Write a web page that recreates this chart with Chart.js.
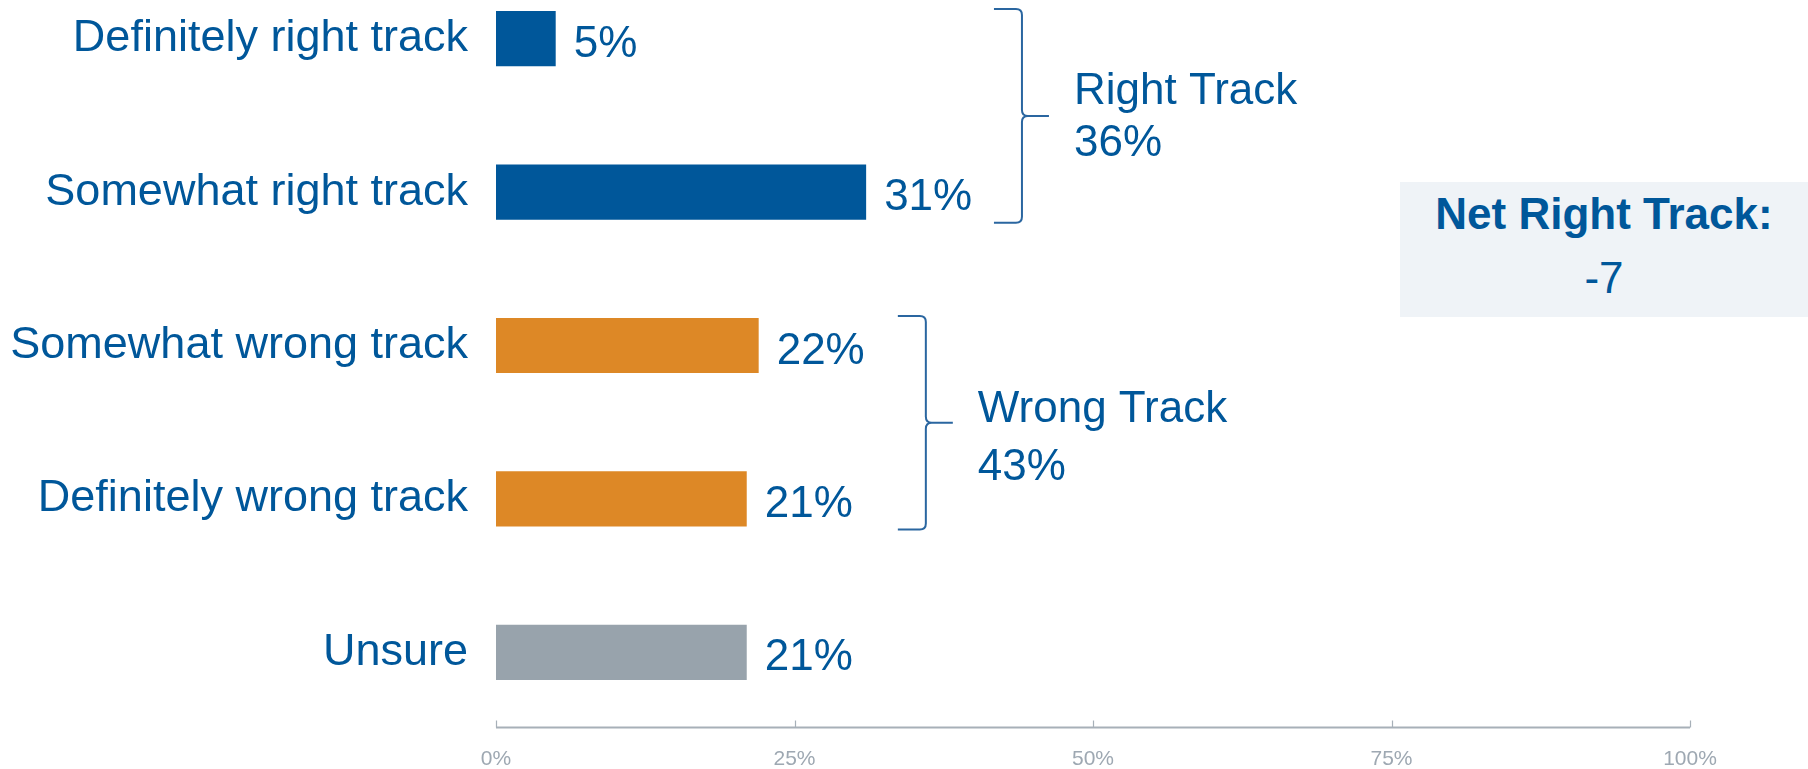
<!DOCTYPE html>
<html>
<head>
<meta charset="utf-8">
<script src="https://cdn.jsdelivr.net/npm/chart.js@4"></script>
<style>
  html, body { margin: 0; padding: 0; background: #fff; overflow: hidden; }
  body { width: 1808px; height: 769px; position: relative; font-family: 'Liberation Sans', Arial, sans-serif; }
  #wrap { position: absolute; left: 0; top: -38px; width: 1808px; height: 807px; }
  #net {
    position: absolute; left: 1400px; top: 182px; width: 408px; height: 135px;
    background: #eff3f7; color: #00579a; text-align: center; font-size: 44px; line-height: 64px;
  }
  #net b { display: block; }
</style>
</head>
<body>
<div id="wrap"><canvas id="chart"></canvas></div>
<div id="net"><b id="netLabel"></b><span id="netValue"></span></div>
<script>
// ── Data ─────────────────────────────────────────────
const categories = ['Definitely right track', 'Somewhat right track', 'Somewhat wrong track', 'Definitely wrong track', 'Unsure'];
const values = [5, 31, 22, 21, 21];
const xTicks = [0, 25, 50, 75, 100];

const groupLabels = ['Right Track', 'Wrong Track'];
const groupValues = [36, 43];
const groupFirst = [0, 2];   // index of first category in the group
const groupLast = [1, 3];    // index of last category in the group

const netLabel = 'Net Right Track:';
const netValue = -7;

// ── Styles ───────────────────────────────────────────
const BLUE = '#00579a';
const ORANGE = '#dd8826';
const GREY = '#98a3ac';
const AXIS = '#a7b0b8';
const barColors = [BLUE, BLUE, ORANGE, ORANGE, GREY];

Chart.defaults.font.family = "'Liberation Sans', Arial, sans-serif";

document.getElementById('netLabel').textContent = netLabel;
document.getElementById('netValue').textContent = String(netValue);

// value labels at bar ends
const valueLabels = {
  id: 'valueLabels',
  afterDatasetsDraw(chart) {
    const { ctx } = chart;
    const meta = chart.getDatasetMeta(0);
    ctx.save();
    ctx.font = "44px 'Liberation Sans', Arial, sans-serif";
    ctx.fillStyle = BLUE;
    ctx.textAlign = 'left';
    ctx.textBaseline = 'alphabetic';
    meta.data.forEach((bar, i) => {
      ctx.fillText(values[i] + '%', bar.x + 18, bar.y + 18);
    });
    ctx.restore();
  }
};

// bottom axis line with upward ticks
const axisLine = {
  id: 'axisLine',
  afterDraw(chart) {
    const { ctx, chartArea } = chart;
    const xs = chart.scales.x;
    const y = chartArea.bottom - 1.5;
    ctx.save();
    ctx.strokeStyle = AXIS;
    ctx.lineWidth = 2;
    ctx.beginPath();
    ctx.moveTo(xs.getPixelForValue(0), y);
    ctx.lineTo(xs.getPixelForValue(100), y);
    ctx.stroke();
    ctx.lineWidth = 1.2;
    xTicks.forEach(t => {
      const x = Math.round(xs.getPixelForValue(t)) + 0.5;
      ctx.beginPath();
      ctx.moveTo(x, y);
      ctx.lineTo(x, y - 7);
      ctx.stroke();
    });
    ctx.restore();
  }
};

// curly braces + group totals
const braces = {
  id: 'braces',
  afterDraw(chart, args, opts) {
    const { ctx } = chart;
    const xs = chart.scales.x;
    const meta = chart.getDatasetMeta(0);
    ctx.save();
    groupLabels.forEach((label, g) => {
      const first = meta.data[groupFirst[g]];
      const last = meta.data[groupLast[g]];
      const top = first.y - first.height / 2 - 2;
      const bot = last.y + last.height / 2 + 3;
      const mid = (top + bot) / 2;
      const xv = xs.getPixelForValue(opts.braceAt[g]);
      const r = 6;
      ctx.strokeStyle = '#2a66a0';
      ctx.lineWidth = 2;
      ctx.beginPath();
      ctx.moveTo(xv - 28, top);
      ctx.lineTo(xv - r, top);
      ctx.quadraticCurveTo(xv, top, xv, top + r);
      ctx.lineTo(xv, mid - r);
      ctx.quadraticCurveTo(xv, mid, xv + r, mid);
      ctx.lineTo(xv + 27, mid);
      ctx.moveTo(xv + r, mid);
      ctx.quadraticCurveTo(xv, mid, xv, mid + r);
      ctx.lineTo(xv, bot - r);
      ctx.quadraticCurveTo(xv, bot, xv - r, bot);
      ctx.lineTo(xv - 28, bot);
      ctx.stroke();

      ctx.font = "44px 'Liberation Sans', Arial, sans-serif";
      ctx.fillStyle = BLUE;
      ctx.textAlign = 'left';
      ctx.textBaseline = 'alphabetic';
      const off = opts.labelOffsets[g];
      ctx.fillText(label, xv + 52, mid + off[0]);
      ctx.fillText(groupValues[g] + '%', xv + 52, mid + off[1]);
    });
    ctx.restore();
  }
};

new Chart(document.getElementById('chart'), {
  type: 'bar',
  data: {
    labels: categories,
    datasets: [{
      data: values,
      backgroundColor: barColors,
      borderWidth: 0,
      categoryPercentage: 1,
      barPercentage: 0.36,
    }],
  },
  options: {
    indexAxis: 'y',
    responsive: true,
    maintainAspectRatio: false,
    animation: false,
    events: [],
    layout: { padding: { left: 0, right: 118, top: 0, bottom: 0 } },
    plugins: {
      legend: { display: false },
      tooltip: { enabled: false },
      braces: { braceAt: [44.05, 36.0], labelOffsets: [[-12, 40], [-1, 57]] },
    },
    scales: {
      x: {
        min: 0, max: 100,
        grid: { display: false, drawTicks: false },
        border: { display: false },
        ticks: {
          stepSize: 25,
          maxRotation: 0,
          padding: 18,
          color: '#9ea8b2',
          font: { size: 21 },
          callback: v => v + '%',
        },
        afterFit: s => { s.height = 40; s.paddingLeft = 0; s.paddingRight = 0; },
      },
      y: {
        grid: { display: false, drawTicks: false },
        border: { display: false },
        ticks: {
          autoSkip: false,
          padding: 28,
          color: BLUE,
          font: { size: 45 },
        },
        afterFit: s => { s.width = 496; s.paddingTop = 0; s.paddingBottom = 0; },
      },
    },
  },
  plugins: [valueLabels, axisLine, braces],
});
</script>
</body>
</html>
